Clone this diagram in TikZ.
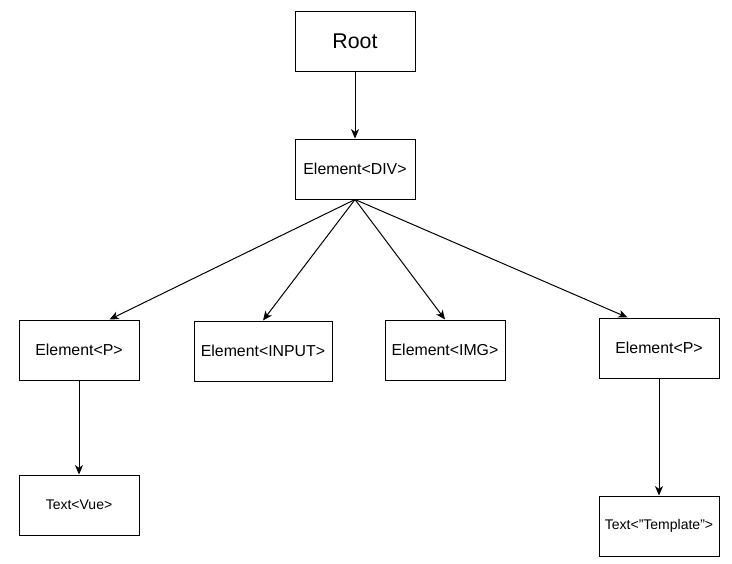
\documentclass[tikz,border=0pt]{standalone}
\usepackage{fontspec}
\setmainfont{Liberation Sans}
\usetikzlibrary{arrows.meta,calc}
\begin{document}
\begin{tikzpicture}[x=0.75pt,y=-0.75pt,
  box/.style={draw,line width=0.75pt,minimum width=90pt,minimum height=45pt,inner sep=0pt,font=\fontsize{11.9}{14}\selectfont},
  small/.style={font=\fontsize{10.5}{12}\selectfont},
  conn/.style={line width=0.75pt,-{Stealth[length=7pt,width=6pt,inset=2pt]}}]
\useasboundingbox (0,0) rectangle (732,564);
\node[box,font=\fontsize{16}{19}\selectfont] (root) at (355,41) {Root};
\node[box] (div) at (355,169) {Element<DIV>};
\node[box] (lp) at (79,350) {Element<P>};
\node[box,minimum width=103.5pt] (inp) at (263,351) {Element<INPUT>};
\node[box] (img) at (445,350) {Element<IMG>};
\node[box] (rp) at (659,348) {Element<P>};
\node[box,small] (vue) at (79,505) {Text<Vue>};
\node[box,small] (tpl) at (659,526) {Text<"Template">};
\draw[conn] (root) -- (div);
\draw[conn] (div.south) -- ($(lp.north west)+(91,0)$);
\draw[conn] (div.south) -- (inp.north);
\draw[conn] (div.south) -- (img.north);
\draw[conn] (div.south) -- ($(rp.north west)+(29,0)$);
\draw[conn] (lp) -- (vue);
\draw[conn] (rp) -- (tpl);
\end{tikzpicture}
\end{document}
